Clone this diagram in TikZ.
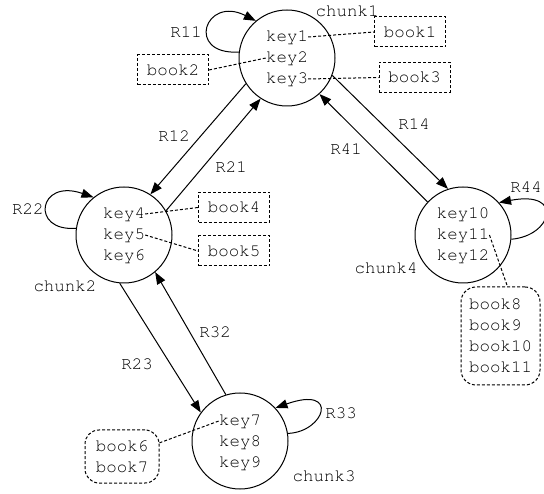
\documentclass[tikz,border=0pt]{standalone}
\usepackage[T1]{fontenc}
\usepackage{courier}
\usetikzlibrary{arrows.meta}
\begin{document}
\begin{tikzpicture}[x=1pt,y=-1pt,
  txt/.style={inner sep=0pt,font=\ttfamily\fontsize{17.5}{21}\selectfont},
  chunk/.style={circle,draw,line width=1pt,minimum size=96pt,inner sep=0pt},
  bookbox/.style={txt,draw,line width=1pt,dash pattern=on 3pt off 2pt,minimum height=30pt,minimum width=71pt},
  bookgrp/.style={bookbox,rounded corners=14pt,align=left},
  link/.style={line width=1pt,dash pattern=on 3pt off 2pt},
  rel/.style={line width=1pt,-{Triangle[length=12pt,width=9pt]}},
]
\useasboundingbox (0,0) rectangle (544,494);
% chunks
\node[chunk] (c1) at (287,58) {};
\node[chunk] (c2) at (124,235) {};
\node[chunk] (c3) at (240,441) {};
\node[chunk] (c4) at (463,235) {};
% keys
\node[txt] (k1) at (287,37) {key1};
\node[txt] (k2) at (287,58) {key2};
\node[txt] (k3) at (287,79) {key3};
\node[txt] (k4) at (124,214) {key4};
\node[txt] (k5) at (124,235) {key5};
\node[txt] (k6) at (124,256) {key6};
\node[txt] (k7) at (240,421) {key7};
\node[txt] (k8) at (240,442) {key8};
\node[txt] (k9) at (240,463) {key9};
\node[txt] (k10) at (463,214) {key10};
\node[txt] (k11) at (463,235) {key11};
\node[txt] (k12) at (463,256) {key12};
% chunk names
\node[txt] (n1) at (347,11) {chunk1};
\node[txt] (n2) at (65,286) {chunk2};
\node[txt] (n3) at (324,476) {chunk3};
\node[txt] (n4) at (386,268) {chunk4};
% books
\node[bookbox] (b1) at (410,32) {book1};
\node[bookbox] (b2) at (173,70) {book2};
\node[bookbox] (b3) at (414.5,77.5) {book3};
\node[bookbox] (b4) at (234,207.5) {book4};
\node[bookbox] (b5) at (234,251) {book5};
\node[bookgrp,minimum width=74pt,minimum height=53pt] (b67) at (122,456.5) {book6\\book7};
\node[bookgrp,minimum width=79pt,minimum height=98pt,rounded corners=15pt] (b811) at (500.5,336) {book8\\book9\\book10\\book11};
% dotted links
\draw[link] (k1.east) -- (b1.west);
\draw[link] (b2.east) -- (k2.west);
\draw[link] (k3.east) -- (b3.west);
\draw[link] (k4.east) -- (b4.west);
\draw[link] (k5.east) -- (b5.west);
\draw[link] (b67.20) -- (k7.west);
\draw[link] (k11.east) -- (b811.82);
% relation labels
\node[txt] (r11) at (186,32) {R11};
\node[txt] (r12) at (174,136) {R12};
\node[txt] (r21) at (231,167) {R21};
\node[txt] (r14) at (414,124) {R14};
\node[txt] (r41) at (346,149) {R41};
\node[txt] (r22) at (28,209) {R22};
\node[txt] (r23) at (137,364) {R23};
\node[txt] (r32) at (215,332) {R32};
\node[txt] (r33) at (341,413) {R33};
\node[txt] (r44) at (526,187) {R44};
% relations
\draw[rel] (c1.212) -- (c2.57);
\draw[rel] (c2.30) -- (c1.237);
\draw[rel] (c1.339) -- (c4.108);
\draw[rel] (c4.137) -- (c1.312);
\draw[rel] (c2.265) -- (c3.144);
\draw[rel] (c3.107) -- (c2.310);
% self loops
\draw[rel] (c1.173) .. controls (185,55) and (205,-5) .. (c1.130);
\draw[rel] (c2.172) .. controls (30,232) and (38,178) .. (c2.129);
\draw[rel] (c3.9) .. controls (325,432) and (340,385) .. (c3.43);
\draw[rel] (c4.-5) .. controls (552,236) and (565,190) .. (c4.42);
\end{tikzpicture}
\end{document}
